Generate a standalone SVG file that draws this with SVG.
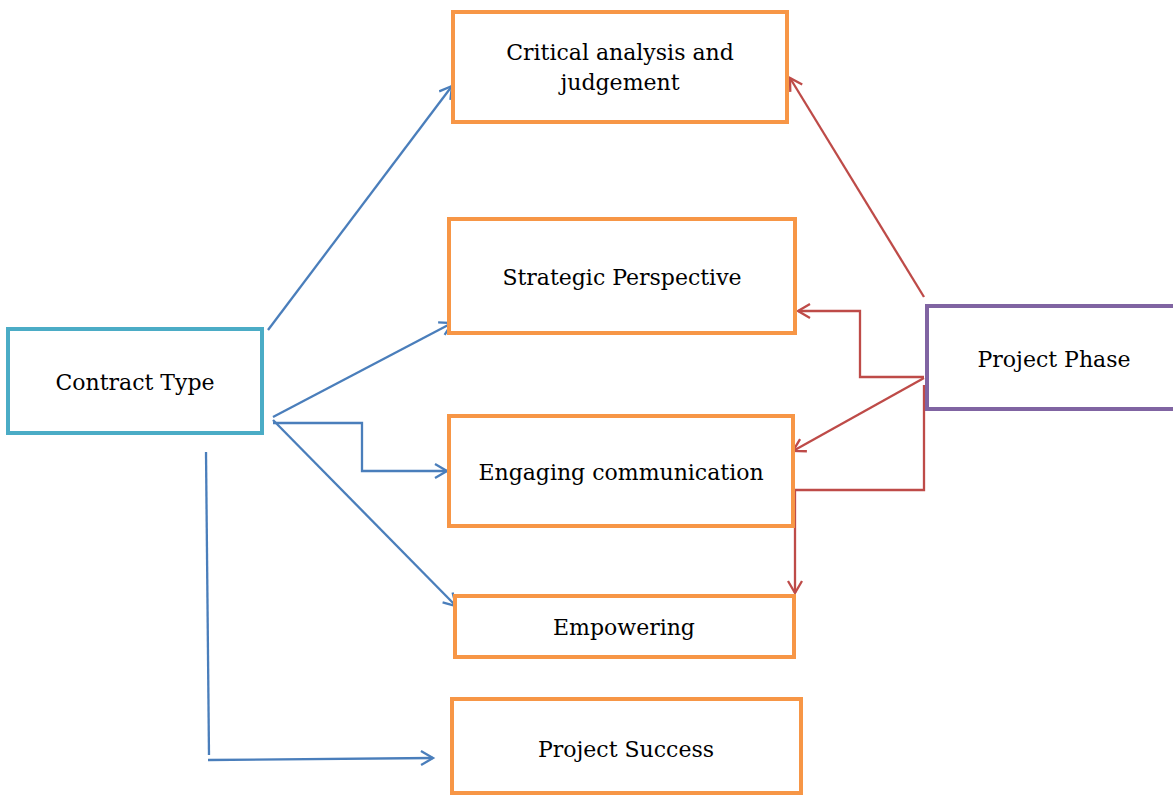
<svg xmlns="http://www.w3.org/2000/svg" width="1173" height="795" viewBox="0 0 1173 795">
<defs>
<style>
.box{fill:#fff;stroke:#f79646;stroke-width:4}
.ct{fill:#fff;stroke:#4bacc6;stroke-width:4}
.pp{fill:#fff;stroke:#8064a2;stroke-width:4}
.b{fill:none;stroke:#4a7ebb;stroke-width:2.3}
.r{fill:none;stroke:#be4b48;stroke-width:2.3}
text{font-family:"DejaVu Serif","Liberation Serif",serif;font-size:22px;fill:#000;text-anchor:middle}
</style>
<marker id="ab" markerUnits="userSpaceOnUse" markerWidth="20" markerHeight="20" refX="14" refY="8" orient="auto">
<path d="M2,1 L14,8 L2,15" fill="none" stroke="#4a7ebb" stroke-width="2.3"/>
</marker>
<marker id="ar" markerUnits="userSpaceOnUse" markerWidth="20" markerHeight="20" refX="14" refY="8" orient="auto">
<path d="M2,1 L14,8 L2,15" fill="none" stroke="#be4b48" stroke-width="2.3"/>
</marker>
</defs>
<rect width="1173" height="795" fill="#fff"/>
<g id="connectors">
<path class="b" d="M268,330 L452,86" marker-end="url(#ab)"/>
<path class="b" d="M273,417 L452,323" marker-end="url(#ab)"/>
<path class="b" d="M273,423 L362,423 L362,471 L447,471" marker-end="url(#ab)"/>
<path class="b" d="M273,420 L456,606" marker-end="url(#ab)"/>
<path class="b" d="M206,452 L209,755"/>
<path class="b" d="M208,760 L433,758" marker-end="url(#ab)"/>
<path class="r" d="M924,297 L790,78" marker-end="url(#ar)"/>
<path class="r" d="M924,377 L860,377 L860,311 L798,311" marker-end="url(#ar)"/>
<path class="r" d="M924,378 L793,451" marker-end="url(#ar)"/>
<path class="r" d="M924,385 L924,490 L795,490 L795,593" marker-end="url(#ar)"/>
</g>
<g id="critical">
<rect class="box" x="453" y="12" width="334" height="110"/>
<text x="620" y="60">Critical analysis and</text>
<text x="620" y="90">judgement</text>
</g>
<g id="strategic">
<rect class="box" x="449" y="219" width="346" height="114"/>
<text x="622" y="285">Strategic Perspective</text>
</g>
<g id="engaging">
<rect class="box" x="449" y="416" width="344" height="110"/>
<text x="621" y="480">Engaging communication</text>
</g>
<g id="empowering">
<rect class="box" x="455" y="596" width="339" height="61"/>
<text x="624" y="635">Empowering</text>
</g>
<g id="success">
<rect class="box" x="452" y="699" width="349" height="94"/>
<text x="626" y="757">Project Success</text>
</g>
<g id="contract">
<rect class="ct" x="8" y="329" width="254" height="104"/>
<text x="135" y="390">Contract Type</text>
</g>
<g id="phase">
<rect class="pp" x="927" y="306" width="250" height="103"/>
<text x="1054" y="367">Project Phase</text>
</g>
</svg>
